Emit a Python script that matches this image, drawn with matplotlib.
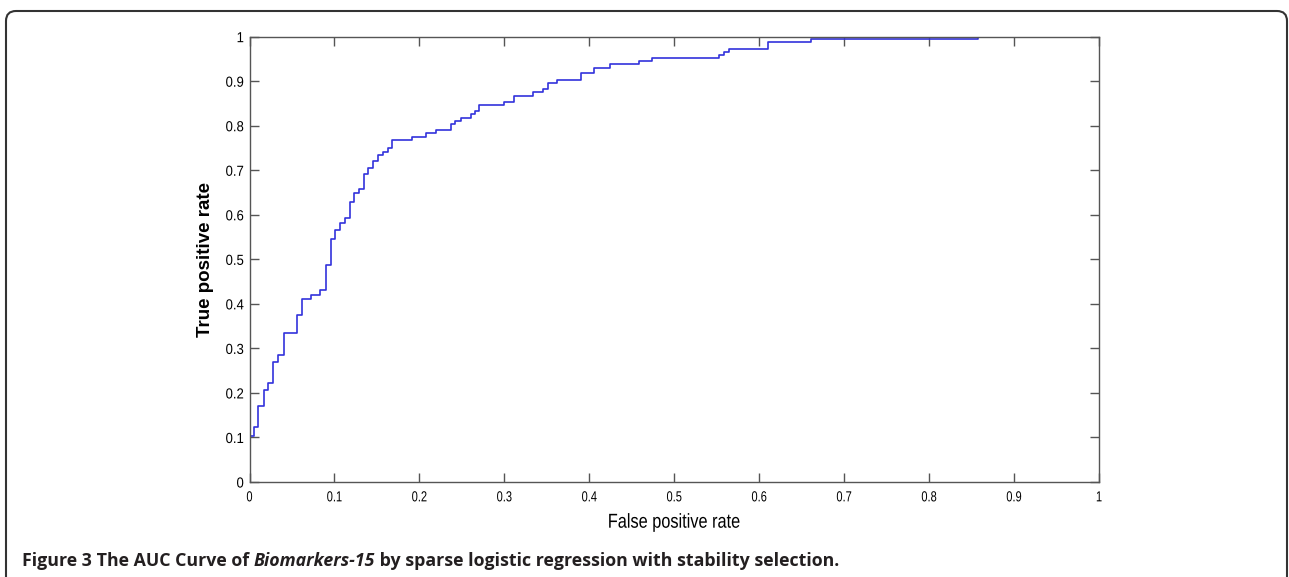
import matplotlib
matplotlib.use("Agg")
import matplotlib.pyplot as plt
from matplotlib.patches import FancyBboxPatch
from matplotlib.patheffects import AbstractPathEffect
from matplotlib.transforms import Affine2D

# ROC curve steps (value holds from fpr[i] to fpr[i+1])
fpr = [0, 0.005, 0.010, 0.0165, 0.022, 0.028, 0.034, 0.040,
       0.056, 0.062, 0.0725, 0.0835, 0.090,
       0.0953, 0.101, 0.107, 0.112, 0.118,
       0.1235, 0.129, 0.1345, 0.140, 0.1455,
       0.151, 0.157, 0.163, 0.168, 0.191,
       0.208, 0.219, 0.237, 0.242, 0.249,
       0.2605, 0.265, 0.270, 0.300, 0.311,
       0.334, 0.345, 0.351, 0.362, 0.390,
       0.406, 0.424, 0.458, 0.474, 0.553,
       0.559, 0.564, 0.610, 0.661, 0.858]
tpr = [0.103, 0.124, 0.171, 0.207, 0.222, 0.269, 0.285, 0.335,
       0.375, 0.412, 0.419, 0.431, 0.488,
       0.545, 0.566, 0.581, 0.592, 0.628,
       0.649, 0.657, 0.691, 0.706, 0.720,
       0.734, 0.742, 0.749, 0.769, 0.775,
       0.783, 0.790, 0.803, 0.811, 0.818,
       0.826, 0.834, 0.846, 0.853, 0.867,
       0.876, 0.882, 0.897, 0.903, 0.918,
       0.930, 0.938, 0.945, 0.953, 0.959,
       0.966, 0.973, 0.987, 0.995, 1.0]

ticks = [0, 0.1, 0.2, 0.3, 0.4, 0.5, 0.6, 0.7, 0.8, 0.9, 1]
ticklabels = ["0", "0.1", "0.2", "0.3", "0.4", "0.5", "0.6", "0.7", "0.8", "0.9", "1"]

caption = [("Figure 3", "normal"), (" The AUC Curve of ", "normal"),
           ("Biomarkers-15", "italic"),
           (" by sparse logistic regression with stability selection.", "normal")]


class Squeeze(AbstractPathEffect):
    """draw text narrower along its own direction (no narrow font installed)"""
    def __init__(self, sx, anchor="center"):
        super().__init__()
        self.sx = sx
        self.anchor = anchor

    def draw_path(self, renderer, gc, tpath, affine, rgbFace=None):
        ext = tpath.get_extents()
        if self.anchor == "right":
            cx = ext.x1
        elif self.anchor == "left":
            cx = ext.x0
        else:
            cx = (ext.x0 + ext.x1) / 2
        tr = Affine2D().translate(-cx, 0).scale(self.sx, 1).translate(cx, 0) + affine
        renderer.draw_path(gc, tpath, tr, rgbFace)


font = ["Liberation Sans", "DejaVu Sans"]
spine_col = "#555555"

fig = plt.figure(figsize=(12.89, 5.77), dpi=100)
ax = fig.add_axes([0.1936, 0.1646, 0.8526 - 0.1936, 0.9364 - 0.1646])

ax.plot(fpr, tpr, drawstyle="steps-post", color="#3232dc", lw=1.2)

ax.set_xlim(0, 1)
ax.set_ylim(0, 1)
ax.set_xticks(ticks)
ax.set_yticks(ticks)
ax.set_xticklabels(ticklabels, family=font, fontsize=10.5)
ax.set_yticklabels(ticklabels, family=font, fontsize=10.5)
for t in ax.get_xticklabels():
    t.set_path_effects([Squeeze(0.76)])
for t in ax.get_yticklabels():
    t.set_path_effects([Squeeze(0.9, "right")])
ax.tick_params(direction="in", length=6.5, width=1, color=spine_col,
               top=True, right=True)
ax.tick_params(axis="x", pad=6)
ax.tick_params(axis="y", pad=4)
for s in ax.spines.values():
    s.set_color(spine_col)
    s.set_linewidth(1)

xl = ax.set_xlabel("False positive rate", family=font, fontsize=14.5, labelpad=6)
xl.set_path_effects([Squeeze(0.81)])
ax.set_ylabel("True positive rate", family=font, fontsize=13.5,
              fontweight="bold", labelpad=7)

# rounded frame around the figure panel
frame = FancyBboxPatch((6, -20), 1281, 586, boxstyle="round,pad=0,rounding_size=10",
                       transform=None, fill=False, edgecolor="#333333", lw=1.5)
fig.add_artist(frame)

# caption, chained piece by piece on a common baseline
ybase = 1 - 566.5 / 577
prev = fig.text(22 / 1289, ybase, caption[0][0], family="Open Sans",
                fontweight="bold", fontsize=12.8, color="#231f20", va="baseline")
for txt, style in caption[1:]:
    prev = ax.annotate(txt, xy=(1, ybase), xycoords=(prev, "figure fraction"),
                       va="baseline", ha="left", family="Open Sans",
                       fontweight="bold", style=style, fontsize=12.8,
                       color="#231f20", annotation_clip=False)

fig.savefig("out.png", dpi=100)
